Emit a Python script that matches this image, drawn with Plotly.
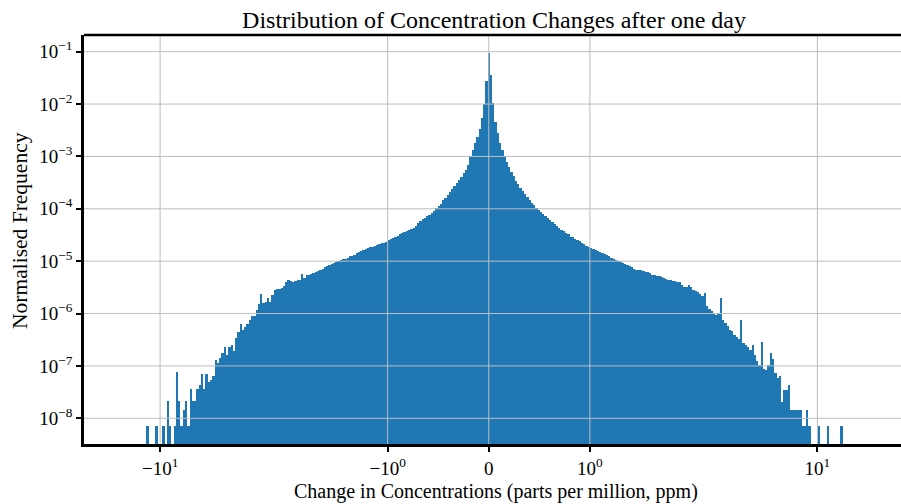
import numpy as np
import plotly.graph_objects as go

# ---- data ----
# symlog axis parameters (linthresh = 1, linscale = 0.4, base 10)
LINTHRESH = 1.0
LINSCALE = 0.4
BIN_WIDTH_U = 0.01          # histogram bin width in transformed (symlog) units
FIRST_BIN = -151            # index of first bin (bin k is centred at k * BIN_WIDTH_U)

# log10 of the normalised frequency in each bin (None = empty bin)
log10_freq = [
    None, -8.15, None, None, None, -8.15, None, None, -8.15, None,
    -7.67, -8.15, None, -8.15, -7.11, -7.67, -8.15, -7.85, -7.67, -8.15,
    -7.45, -7.67, -7.67, -7.45, -7.37, -7.15, -7.45, -7.15, -7.30, -7.27,
    -7.19, -6.89, -6.95, -6.85, -6.75, -6.63, -6.79, -6.63, -6.60, -6.71,
    -6.47, -6.35, -6.20, -6.31, -6.25, -6.19, -6.13, -6.05, -6.05, -5.93,
    -5.82, -5.62, -5.80, -5.78, -5.70, -5.77, -5.65, -5.55, -5.54, -5.53,
    -5.52, -5.47, -5.40, -5.36, -5.38, -5.39, -5.38, -5.36, -5.36, -5.25,
    -5.33, -5.26, -5.26, -5.25, -5.23, -5.21, -5.19, -5.17, -5.14, -5.12,
    -5.10, -5.08, -5.05, -5.04, -5.01, -4.99, -4.97, -4.96, -4.95, -4.94,
    -4.91, -4.91, -4.88, -4.85, -4.83, -4.81, -4.79, -4.77, -4.75, -4.73,
    -4.73, -4.71, -4.69, -4.67, -4.66, -4.65, -4.63, -4.60, -4.58, -4.55,
    -4.53, -4.51, -4.49, -4.47, -4.44, -4.42, -4.40, -4.38, -4.36, -4.32,
    -4.28, -4.24, -4.20, -4.17, -4.14, -4.11, -4.08, -4.04, -3.98, -3.95,
    -3.90, -3.84, -3.79, -3.74, -3.68, -3.63, -3.56, -3.51, -3.45, -3.39,
    -3.32, -3.25, -3.16, -2.99, -2.88, -2.74, -2.63, -2.48, -2.27, -2.00,
    -1.55, -1.03, -1.45, -1.98, -2.34, -2.55, -2.74, -2.88, -3.00, -3.11,
    -3.21, -3.30, -3.38, -3.46, -3.53, -3.60, -3.66, -3.72, -3.78, -3.83,
    -3.88, -3.93, -3.98, -4.02, -4.06, -4.10, -4.14, -4.18, -4.22, -4.25,
    -4.29, -4.32, -4.36, -4.40, -4.43, -4.46, -4.49, -4.53, -4.54, -4.57,
    -4.59, -4.62, -4.66, -4.68, -4.71, -4.73, -4.75, -4.77, -4.79, -4.81,
    -4.82, -4.84, -4.86, -4.89, -4.91, -4.93, -4.95, -4.97, -5.00, -5.01,
    -5.03, -5.05, -5.08, -5.10, -5.12, -5.14, -5.16, -5.16, -5.17, -5.18,
    -5.20, -5.21, -5.23, -5.26, -5.27, -5.29, -5.29, -5.31, -5.33, -5.34,
    -5.35, -5.36, -5.37, -5.38, -5.40, -5.39, -5.45, -5.49, -5.50, -5.46,
    -5.50, -5.55, -5.57, -5.59, -5.63, -5.67, -5.61, -5.86, -5.91, -5.96,
    -6.00, -6.02, -5.99, -5.70, -6.12, -6.18, -6.24, -6.31, -6.34, -6.40,
    -6.44, -6.49, -6.12, -6.57, -6.60, -6.63, -6.70, -6.61, -6.79, -6.91,
    -6.98, -6.55, -7.06, -7.08, -6.98, -6.75, -6.87, -7.14, -7.24, -7.20,
    -7.68, -7.46, -7.46, -7.37, -7.84, -7.84, -7.84, -7.84, -7.85, -8.15,
    -8.15, -7.85, -8.15, None, None, None, -8.15, None, None, None,
    -8.15, None, None, None, None, None, -8.15,
]

x_tick_values = [-10, -1, 0, 1, 10]
x_tick_labels = ["\u221210<sup>1</sup>", "\u221210<sup>0</sup>", "0", "10<sup>0</sup>", "10<sup>1</sup>"]
y_tick_exponents = [-1, -2, -3, -4, -5, -6, -7, -8]
y_tick_labels = ["10<sup>\u2212%d</sup>" % (-e) for e in y_tick_exponents]

TITLE = "Distribution of Concentration Changes after one day"
X_LABEL = "Change in Concentrations (parts per million, ppm)"
Y_LABEL = "Normalised Frequency"

X_RANGE = [-1.779, 1.812]
Y_LOG_RANGE = [-8.491, -0.681]

# ---- symlog transform (matplotlib-style) ----
C = LINSCALE / (1 - 1 / 10.0)


def symlog(v):
    v = np.asarray(v, dtype=float)
    a = np.abs(v)
    return np.where(a <= LINTHRESH, v * C / LINTHRESH,
                    np.sign(v) * (C + np.log10(np.maximum(a, LINTHRESH) / LINTHRESH)))


k = np.arange(FIRST_BIN, FIRST_BIN + len(log10_freq))
bin_centres_u = k * BIN_WIDTH_U
freq = [None if v is None else 10.0 ** v for v in log10_freq]

BLUE = "#1f77b4"
FONT = "Liberation Serif"
GRID = "#bdbdbd"

fig = go.Figure()
fig.add_trace(go.Bar(x=bin_centres_u, y=freq, width=BIN_WIDTH_U,
                     marker=dict(color=BLUE, line=dict(width=0)),
                     hoverinfo="skip"))

xt = symlog(x_tick_values)
shapes = []
for u in xt:
    shapes.append(dict(type="line", xref="x", yref="paper", x0=float(u), x1=float(u),
                       y0=0, y1=1, line=dict(color=GRID, width=1), layer="above"))
for e in y_tick_exponents:
    yp = (e - Y_LOG_RANGE[0]) / (Y_LOG_RANGE[1] - Y_LOG_RANGE[0])
    shapes.append(dict(type="line", xref="paper", yref="paper", x0=0, x1=1,
                       y0=yp, y1=yp, line=dict(color=GRID, width=1), layer="above"))
# top spine
shapes.append(dict(type="line", xref="paper", yref="paper", x0=0, x1=1, y0=1, y1=1,
                   line=dict(color="black", width=2.5), layer="above"))

axis_common = dict(showline=True, linecolor="black", linewidth=2.5, mirror=False,
                   ticks="outside", ticklen=5, tickwidth=1.5, tickcolor="black",
                   showgrid=False, zeroline=False,
                   tickfont=dict(family=FONT, size=19, color="black"))

fig.update_layout(
    width=901, height=504,
    margin=dict(l=84, r=0, t=35, b=60),
    paper_bgcolor="white", plot_bgcolor="white",
    bargap=0, showlegend=False,
    font=dict(family=FONT, color="black"),
    title=dict(text=TITLE, x=(494 - 0) / 901, xanchor="center",
               y=1 - 20 / 504, yanchor="middle", yref="container",
               font=dict(family=FONT, size=24, color="black")),
    xaxis=dict(range=X_RANGE, tickvals=[float(v) for v in xt],
               ticktext=x_tick_labels, **axis_common),
    yaxis=dict(type="log", range=Y_LOG_RANGE,
               tickvals=[10.0 ** e for e in y_tick_exponents],
               ticktext=y_tick_labels, **axis_common),
    shapes=shapes,
    annotations=[
        dict(text=X_LABEL, xref="paper", yref="paper", x=(496 - 84) / 817, y=(444 - 491) / 409,
             xanchor="center", yanchor="middle", showarrow=False,
             font=dict(family=FONT, size=20, color="black")),
        dict(text=Y_LABEL, xref="paper", yref="paper", x=(20 - 84) / 817, y=(444 - 231) / 409,
             xanchor="center", yanchor="middle", textangle=-90, showarrow=False,
             font=dict(family=FONT, size=21.5, color="black")),
    ],
)

fig.write_html("out.html")
